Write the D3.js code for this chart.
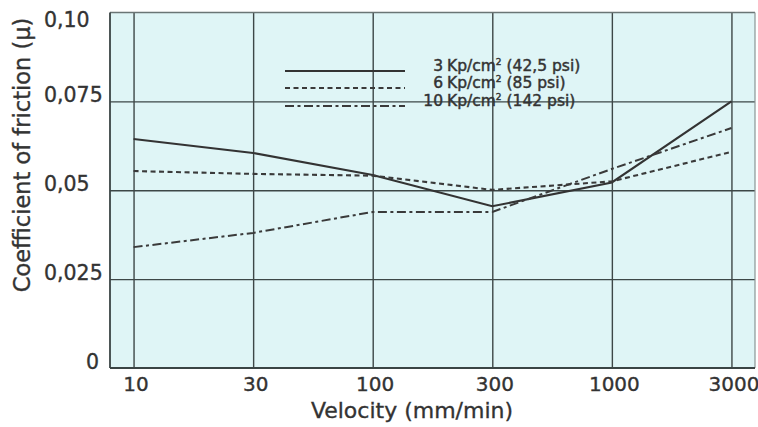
<!DOCTYPE html>
<html>
<head>
<meta charset="utf-8">
<script src="https://cdn.jsdelivr.net/npm/d3@7"></script>
<style>
  html, body { margin: 0; padding: 0; background: #ffffff; }
  svg { display: block; }
  text { font-family: "DejaVu Sans", "Liberation Sans", sans-serif; fill: #333333; stroke: #333333; stroke-width: 0.35px; }
</style>
</head>
<body>
<svg id="chart" width="758" height="427"></svg>
<script>
// ---- data ----
const categories = ["10", "30", "100", "300", "1000", "3000"];
const series3Kp  = [0.0644, 0.0605, 0.0543, 0.0455, 0.0522, 0.0750];
const series6Kp  = [0.0554, 0.0546, 0.0541, 0.0501, 0.0525, 0.0608];
const series10Kp = [0.0340, 0.0380, 0.0439, 0.0439, 0.0560, 0.0675];
const yTicks      = [0, 0.025, 0.05, 0.075, 0.10];
const yTickLabels = ["0", "0,025", "0,05", "0,075", "0,10"];
const legendNumbers = ["3", "6", "10"];
const legendRest    = ["Kp/cm", "Kp/cm", "Kp/cm"];
const legendPsi     = [" (42,5 psi)", " (85 psi)", " (142 psi)"];
const xTitle = "Velocity (mm/min)";
const yTitle = "Coefficient of friction (\u03bc)";

// ---- layout ----
const svg = d3.select("#chart");
const pLeft = 110, pRight = 755, pTop = 12.5, pBottom = 368;

const x = d3.scalePoint().domain(categories).range([pLeft, pRight]).padding(0.197);
const y = d3.scaleLinear().domain([0, 0.10]).range([pBottom, pTop]);

// plot background
svg.append("rect")
  .attr("x", pLeft).attr("y", pTop)
  .attr("width", pRight - pLeft).attr("height", pBottom - pTop)
  .attr("fill", "#dff5f6");

// grid: vertical
const gridColor = "#3d4747";
svg.append("g")
  .attr("transform", `translate(0,${pBottom})`)
  .call(d3.axisBottom(x).tickSize(-(pBottom - pTop)).tickFormat(""))
  .call(g => g.select(".domain").remove())
  .call(g => g.selectAll("line").attr("stroke", gridColor).attr("stroke-width", 1.4));

// grid: horizontal
svg.append("g")
  .attr("transform", `translate(${pLeft},0)`)
  .call(d3.axisLeft(y).tickValues(yTicks.filter(v => v > 0 && v < 0.1)).tickSize(-(pRight - pLeft)).tickFormat(""))
  .call(g => g.select(".domain").remove())
  .call(g => g.selectAll("line").attr("stroke", gridColor).attr("stroke-width", 1.4));

// border
svg.append("line").attr("x1", pLeft).attr("x2", pRight).attr("y1", pTop).attr("y2", pTop)
  .attr("stroke", "#6a7575").attr("stroke-width", 1.3);
svg.append("line").attr("x1", pRight).attr("x2", pRight).attr("y1", pTop).attr("y2", pBottom)
  .attr("stroke", "#8a9595").attr("stroke-width", 1.2);
svg.append("line").attr("x1", pLeft).attr("x2", pLeft).attr("y1", pTop).attr("y2", pBottom)
  .attr("stroke", "#3a4444").attr("stroke-width", 1.8);
svg.append("line").attr("x1", pLeft).attr("x2", pRight).attr("y1", pBottom).attr("y2", pBottom)
  .attr("stroke", "#3a4444").attr("stroke-width", 2);

// x axis labels
svg.append("g")
  .attr("transform", `translate(0,${pBottom})`)
  .call(d3.axisBottom(x).tickSize(0).tickPadding(0))
  .call(g => g.select(".domain").remove())
  .call(g => g.selectAll("text")
      .attr("y", 23).attr("dy", 0).attr("dx", 2)
      .style("font-family", "DejaVu Sans").style("font-size", "20px")
      .attr("fill", "#333").attr("stroke", "#333").attr("stroke-width", 0.35));

// y axis labels
svg.append("g")
  .attr("transform", `translate(${pLeft},0)`)
  .call(d3.axisLeft(y).tickValues(yTicks).tickSize(0).tickFormat((d, i) => yTickLabels[i]))
  .call(g => g.select(".domain").remove())
  .call(g => g.selectAll("text")
      .attr("text-anchor", d => d === 0 ? "end" : "start")
      .attr("x", d => d === 0 ? -11 : -66)
      .attr("dy", d => d === 0.10 ? 14 : 0)
      .style("font-family", "DejaVu Sans").style("font-size", "20.5px")
      .attr("fill", "#333").attr("stroke", "#333").attr("stroke-width", 0.35));

// titles
svg.append("text")
  .attr("x", 412).attr("y", 418)
  .attr("text-anchor", "middle")
  .style("font-size", "22px")
  .text(xTitle);

svg.append("text")
  .attr("transform", `translate(30,155) rotate(-90)`)
  .attr("text-anchor", "middle")
  .style("font-size", "22.5px")
  .text(yTitle);

// series
const styles = [
  { dash: null,            width: 2.1, color: "#333" },
  { dash: "5,3.5",         width: 2.1, color: "#3a3a3a" },
  { dash: "9,3.5,3,3.5",   width: 2.0, color: "#3a3a3a" }
];
const allSeries = [series3Kp, series6Kp, series10Kp];

const line = d3.line()
  .x((d, i) => x(categories[i]))
  .y(d => y(d));

allSeries.forEach((s, k) => {
  svg.append("path")
    .datum(s)
    .attr("d", line)
    .attr("fill", "none")
    .attr("stroke", styles[k].color)
    .attr("stroke-width", styles[k].width)
    .attr("stroke-dasharray", styles[k].dash);
});

// legend
const legendY = [71, 88, 106];
legendNumbers.forEach((num, k) => {
  const ly = legendY[k];
  svg.append("line")
    .attr("x1", 285).attr("x2", 405).attr("y1", ly).attr("y2", ly)
    .attr("stroke", styles[k].color)
    .attr("stroke-width", styles[k].width)
    .attr("stroke-dasharray", styles[k].dash);
  svg.append("text")
    .attr("x", 443).attr("y", ly)
    .attr("text-anchor", "end")
    .style("font-size", "15.5px")
    .style("stroke-width", "0.45px")
    .text(num);
  const t = svg.append("text")
    .attr("x", 447).attr("y", ly)
    .style("font-size", "15.5px")
    .style("stroke-width", "0.45px");
  t.append("tspan").text(legendRest[k]);
  t.append("tspan").attr("dy", -6).style("font-size", "9px").text("2");
  t.append("tspan").attr("dy", 6).text(legendPsi[k]);
});
</script>
</body>
</html>
